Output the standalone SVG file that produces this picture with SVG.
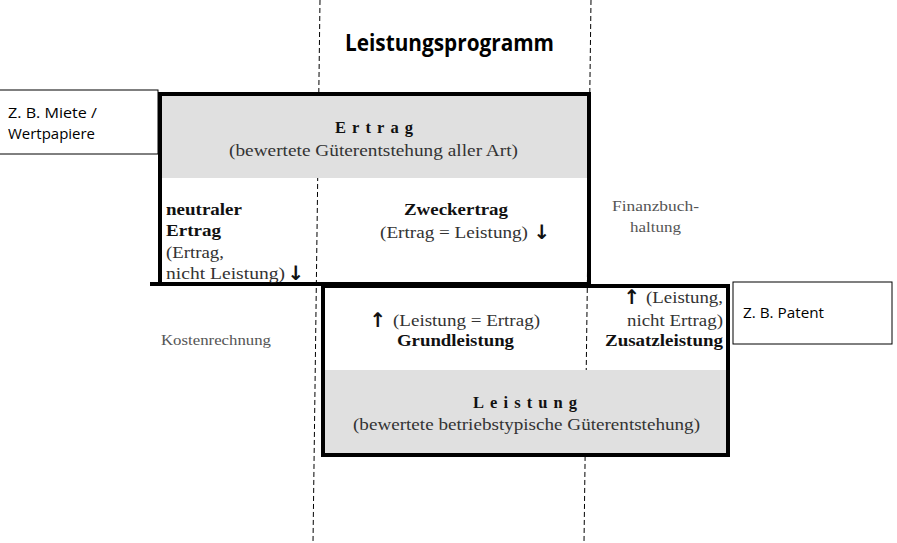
<svg xmlns="http://www.w3.org/2000/svg" width="897" height="543" viewBox="0 0 897 543">
<style>
.serif{font-family:"Liberation Serif","Times New Roman",serif;fill:#333;font-size:16.5px}
.b{font-weight:bold;fill:#111}
.small{font-size:14px;fill:#555}
.sans{font-family:"Open Sans","Noto Sans","Liberation Sans",Arial,sans-serif;fill:#000;font-size:15px}
.title{font-size:23px;font-weight:bold}
.arr{font-family:"DejaVu Sans",sans-serif;font-weight:bold;fill:#111;font-size:20px}
.frame{fill:none;stroke:#000;stroke-width:4}
.dash{stroke:#000;stroke-width:1;stroke-dasharray:5,3;fill:none}
.note{fill:#fff;stroke:#000;stroke-width:1}
</style>
<rect width="897" height="543" fill="#fff"/>
<g id="dividers">
<line class="dash" x1="320" y1="0" x2="313" y2="543"/>
<line class="dash" x1="591" y1="0" x2="584" y2="543"/>
</g>
<text class="sans title" x="345" y="51" textLength="209" lengthAdjust="spacingAndGlyphs">Leistungsprogramm</text>
<g id="ertrag">
<rect x="160" y="94" width="429" height="84" fill="#e0e0e0"/>
<path class="frame" d="M150,284 H589 V94 H160 V284"/>
<text class="serif b" x="335" y="133" textLength="78" lengthAdjust="spacing">Ertrag</text>
<text class="serif" x="229" y="156" textLength="289" lengthAdjust="spacingAndGlyphs">(bewertete Güterentstehung aller Art)</text>
</g>
<g id="neutraler-ertrag">
<text class="serif b" x="166" y="215" textLength="76" lengthAdjust="spacingAndGlyphs">neutraler</text>
<text class="serif b" x="166" y="236" textLength="55" lengthAdjust="spacingAndGlyphs">Ertrag</text>
<text class="serif" x="166" y="258" textLength="58" lengthAdjust="spacingAndGlyphs">(Ertrag,</text>
<text class="serif" x="166" y="279" textLength="119" lengthAdjust="spacingAndGlyphs">nicht Leistung)</text>
<text class="arr" x="296" y="280" text-anchor="middle">↓</text>
</g>
<g id="zweckertrag">
<text class="serif b" x="404" y="215" textLength="104" lengthAdjust="spacingAndGlyphs">Zweckertrag</text>
<text class="serif" x="380" y="238" textLength="148" lengthAdjust="spacingAndGlyphs">(Ertrag = Leistung)</text>
<text class="arr" x="542" y="239" text-anchor="middle">↓</text>
</g>
<g id="leistung">
<rect x="323" y="370" width="405" height="85" fill="#e0e0e0"/>
<path class="frame" d="M589,286 H728 V455 H323 V286 H589"/>
<text class="serif b" x="473" y="408" textLength="104" lengthAdjust="spacing">Leistung</text>
<text class="serif" x="353" y="430" textLength="347" lengthAdjust="spacingAndGlyphs">(bewertete betriebstypische Güterentstehung)</text>
</g>
<g id="grundleistung">
<text class="arr" x="378" y="327" text-anchor="middle">↑</text>
<text class="serif" x="393" y="326" textLength="147" lengthAdjust="spacingAndGlyphs">(Leistung = Ertrag)</text>
<text class="serif b" x="397" y="346" textLength="117" lengthAdjust="spacingAndGlyphs">Grundleistung</text>
</g>
<g id="zusatzleistung">
<text class="arr" x="632" y="304" text-anchor="middle">↑</text>
<text class="serif" x="646" y="303" textLength="77" lengthAdjust="spacingAndGlyphs">(Leistung,</text>
<text class="serif" x="627" y="326" textLength="96" lengthAdjust="spacingAndGlyphs">nicht Ertrag)</text>
<text class="serif b" x="605" y="346" textLength="118" lengthAdjust="spacingAndGlyphs">Zusatzleistung</text>
</g>
<g id="finanzbuchhaltung">
<text class="serif small" x="612" y="211" textLength="87" lengthAdjust="spacingAndGlyphs">Finanzbuch-</text>
<text class="serif small" x="630" y="232" textLength="51" lengthAdjust="spacingAndGlyphs">haltung</text>
</g>
<g id="kostenrechnung">
<text class="serif small" x="161" y="345" textLength="110" lengthAdjust="spacingAndGlyphs">Kostenrechnung</text>
</g>
<g id="note-miete">
<rect class="note" x="-1" y="90" width="159" height="64"/>
<text class="sans" x="8" y="118" textLength="89" lengthAdjust="spacingAndGlyphs">Z. B.  Miete /</text>
<text class="sans" x="8" y="139" textLength="87" lengthAdjust="spacingAndGlyphs">Wertpapiere</text>
</g>
<g id="note-patent">
<rect class="note" x="733" y="282" width="159" height="62"/>
<text class="sans" x="743" y="318" textLength="81" lengthAdjust="spacingAndGlyphs">Z. B.  Patent</text>
</g>
</svg>
